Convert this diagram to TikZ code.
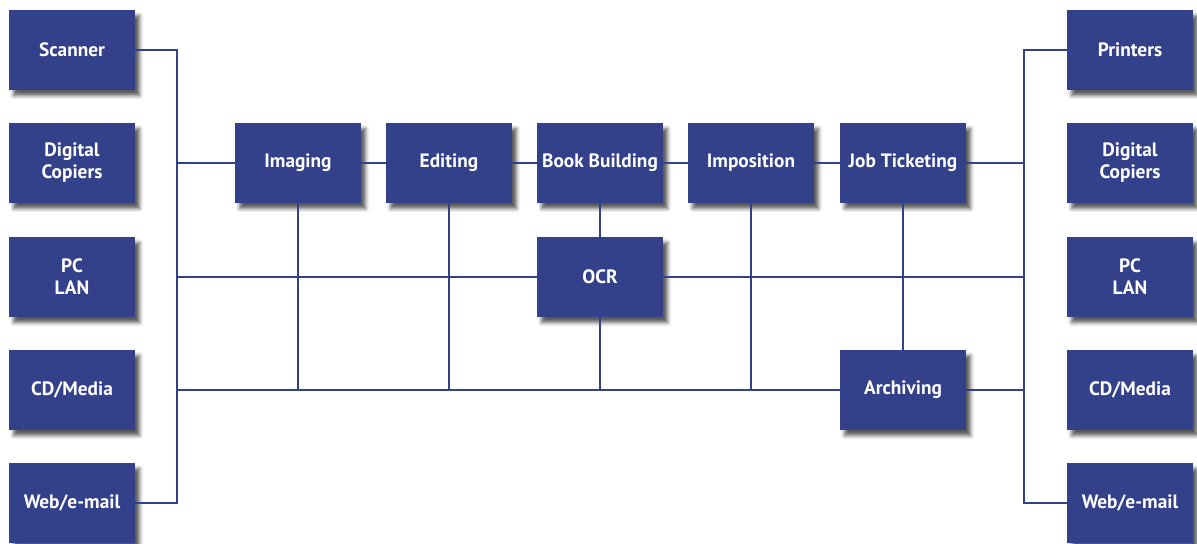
\documentclass[tikz,border=0pt]{standalone}
\usepackage{fontspec}
\setmainfont{PT Sans}
\usetikzlibrary{shadows.blur}
\definecolor{boxblue}{RGB}{51,65,138}
\tikzset{x=0.02cm,y=-0.02cm,
  box/.style={rectangle,fill=boxblue,text=white,font=\bfseries\fontsize{11}{12.5}\selectfont,
    align=center,inner sep=0pt,minimum width=2.52cm,minimum height=1.6cm,
    blur shadow={shadow xshift=2.6pt,shadow yshift=-3.2pt,shadow opacity=65,shadow blur radius=2.2pt}},
  bus/.style={draw=boxblue,line width=1.1pt}}

\begin{document}
\begin{tikzpicture}
\useasboundingbox (0,0) rectangle (1197,544);
% inputs
\node[box] (scanL) at (72,50) {Scanner};
\node[box] (copyL) at (72,163) {Digital\\Copiers};
\node[box] (lanL) at (72,277) {PC\\LAN};
\node[box] (cdL) at (72,390) {CD/Media};
\node[box] (webL) at (72,503) {Web/e-mail};
% workflow
\node[box] (img) at (298,163) {Imaging};
\node[box] (edit) at (449,163) {Editing};
\node[box] (book) at (600,163) {Book Building};
\node[box] (impo) at (751,163) {Imposition};
\node[box] (job) at (903,163) {Job Ticketing};
\node[box] (ocr) at (600,277) {OCR};
\node[box] (arch) at (903,390) {Archiving};
% outputs
\node[box] (prnR) at (1130,50) {Printers};
\node[box] (copyR) at (1130,163) {Digital\\Copiers};
\node[box] (lanR) at (1130,277) {PC\\LAN};
\node[box] (cdR) at (1130,390) {CD/Media};
\node[box] (webR) at (1130,503) {Web/e-mail};

\coordinate (lb1) at (177,50);
\coordinate (lb2) at (177,163);
\coordinate (lb3) at (177,277);
\coordinate (lb4) at (177,390);
\coordinate (lb5) at (177,503);
\coordinate (rb1) at (1024,50);
\coordinate (rb2) at (1024,163);
\coordinate (rb3) at (1024,277);
\coordinate (rb4) at (1024,390);
\coordinate (rb5) at (1024,503);

\draw[bus] (scanL.east) -- (lb1) -- (lb5) -- (webL.east);
\draw[bus] (lb2) -- (img.west);
\draw[bus] (lb3) -- (ocr.west);
\draw[bus] (lb4) -- (arch.west);
\draw[bus] (img) -- (edit) -- (book) -- (impo) -- (job);
\draw[bus] (book) -- (ocr);
\draw[bus] (job) -- (arch);
\draw[bus] (img.south) -- (img.south |- lb4);
\draw[bus] (edit.south) -- (edit.south |- lb4);
\draw[bus] (ocr.south) -- (ocr.south |- lb4);
\draw[bus] (impo.south) -- (impo.south |- lb4);
\draw[bus] (prnR.west) -- (rb1) -- (rb5) -- (webR.west);
\draw[bus] (job.east) -- (rb2);
\draw[bus] (ocr.east) -- (rb3);
\draw[bus] (arch.east) -- (rb4);
\end{tikzpicture}
\end{document}
